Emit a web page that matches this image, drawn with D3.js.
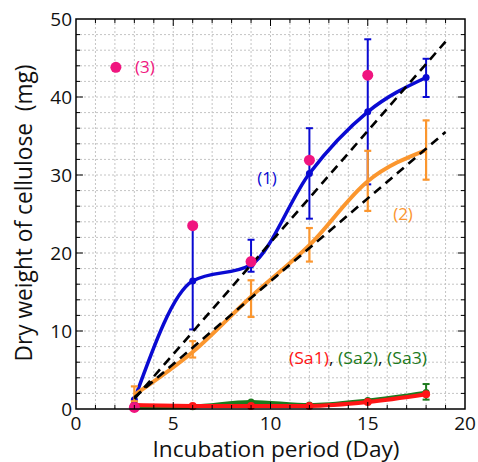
<!DOCTYPE html>
<html>
<head>
<meta charset="utf-8">
<script src="https://cdn.jsdelivr.net/npm/d3@7"></script>
<style>
  html, body { margin: 0; padding: 0; background: #fff; }
  svg { display: block; font-family: "Open Sans", "DejaVu Sans", sans-serif; }
</style>
</head>
<body>
<svg id="chart" width="478" height="462"></svg>
<script>
// incubation days
var days = [3, 6, 9, 12, 15, 18];

// (1) blue
var s1 = [1.2, 16.4, 18.5, 30.2, 38.1, 42.5];
var s1Lo = [1.2, 10.2, 17.6, 24.4, 28.8, 40.0];
var s1Hi = [1.2, 23.4, 21.7, 36.0, 47.4, 44.9];

// (2) orange
var s2 = [1.8, 7.3, 14.4, 21.0, 29.2, 33.2];
var s2Lo = [1.0, 6.6, 11.8, 18.9, 25.4, 29.4];
var s2Hi = [2.9, 8.7, 16.5, 23.2, 33.1, 37.0];

// (3) magenta points
var s3Days = [3, 6, 9, 12, 15];
var s3 = [0.2, 23.5, 18.9, 31.9, 42.8];
var s3Legend = [2.05, 43.8];

// controls
var sa1 = [0.5, 0.4, 0.4, 0.4, 0.9, 1.9];
var sa2 = [0.2, 0.3, 0.9, 0.5, 1.1, 2.1];
var sa2Lo = [0.2, 0.3, 0.9, 0.5, 1.1, 1.2];
var sa2Hi = [0.2, 0.3, 0.9, 0.5, 1.1, 3.2];

// dashed linear trends
var fit1 = [[3, 1.3], [19, 47.1]];
var fit2 = [[3, 1.5], [19, 35.5]];

var xTicks = [0, 5, 10, 15, 20];
var yTicks = [0, 10, 20, 30, 40, 50];

var BLUE = "#0a0ad2", ORANGE = "#fb962e", PINK = "#f0157f", RED = "#ff1515", GREEN = "#1d7a1d";

var svg = d3.select("#chart");
var x = d3.scaleLinear().domain([0, 20]).range([76, 465]);
var y = d3.scaleLinear().domain([0, 50]).range([409, 19]);

// grid
var grid = svg.append("g").attr("stroke", "#c4c4c4").attr("stroke-width", 1).attr("stroke-dasharray", "2,2");
d3.range(1, 20).forEach(function (v) {
  grid.append("line").attr("x1", x(v)).attr("x2", x(v)).attr("y1", y(0)).attr("y2", y(50));
});
d3.range(2, 50, 2).forEach(function (v) {
  grid.append("line").attr("x1", x(0)).attr("x2", x(20)).attr("y1", y(v)).attr("y2", y(v));
});

function pts(xs, ys) {
  return xs.map(function (d, i) { return [d, ys[i]]; });
}
var smooth = d3.line().x(function (d) { return x(d[0]); }).y(function (d) { return y(d[1]); }).curve(d3.curveMonotoneX);
var straight = d3.line().x(function (d) { return x(d[0]); }).y(function (d) { return y(d[1]); });

function errorBars(g, xs, lo, hi, color, w, cap) {
  xs.forEach(function (d, i) {
    if (hi[i] - lo[i] < 0.05) return;
    g.append("line").attr("x1", x(d)).attr("x2", x(d)).attr("y1", y(lo[i])).attr("y2", y(hi[i]))
      .attr("stroke", color).attr("stroke-width", w);
    [lo[i], hi[i]].forEach(function (v) {
      g.append("line").attr("x1", x(d) - cap).attr("x2", x(d) + cap).attr("y1", y(v)).attr("y2", y(v))
        .attr("stroke", color).attr("stroke-width", w);
    });
  });
}

var plot = svg.append("g");

// controls
plot.append("path").attr("d", smooth(pts(days, sa2))).attr("fill", "none").attr("stroke", GREEN).attr("stroke-width", 4);
errorBars(plot, days, sa2Lo, sa2Hi, GREEN, 2, 3.5);
plot.selectAll(".m2").data(pts(days, sa2)).enter().append("circle")
  .attr("cx", function (d) { return x(d[0]); }).attr("cy", function (d) { return y(d[1]); }).attr("r", 3.5).attr("fill", GREEN);
plot.append("path").attr("d", smooth(pts(days, sa1))).attr("fill", "none").attr("stroke", RED).attr("stroke-width", 4);
plot.selectAll(".m1").data(pts(days, sa1)).enter().append("circle")
  .attr("cx", function (d) { return x(d[0]); }).attr("cy", function (d) { return y(d[1]); }).attr("r", 4).attr("fill", RED);

// blue series
errorBars(plot, days, s1Lo, s1Hi, BLUE, 2, 3.5);
plot.append("path").attr("d", smooth(pts(days, s1))).attr("fill", "none").attr("stroke", BLUE).attr("stroke-width", 3.5);
plot.selectAll(".mb").data(pts(days, s1)).enter().append("circle")
  .attr("cx", function (d) { return x(d[0]); }).attr("cy", function (d) { return y(d[1]); }).attr("r", 3.5).attr("fill", BLUE);

// orange series
errorBars(plot, days, s2Lo, s2Hi, ORANGE, 2.2, 3.5);
plot.append("path").attr("d", smooth(pts(days, s2))).attr("fill", "none").attr("stroke", ORANGE).attr("stroke-width", 4);

// dashed trends
[fit1, fit2].forEach(function (f) {
  plot.append("path").attr("d", straight(f)).attr("fill", "none").attr("stroke", "#000")
    .attr("stroke-width", 2.6).attr("stroke-dasharray", "9,6");
});

// magenta points
plot.selectAll(".m3").data(pts(s3Days, s3).concat([s3Legend])).enter().append("circle")
  .attr("cx", function (d) { return x(d[0]); }).attr("cy", function (d) { return y(d[1]); }).attr("r", 5.5).attr("fill", PINK);

// frame and ticks (inward, on all sides)
var axes = svg.append("g").attr("stroke", "#000");
axes.append("rect").attr("x", x(0)).attr("y", y(50)).attr("width", x(20) - x(0)).attr("height", y(0) - y(50))
  .attr("fill", "none").attr("stroke-width", 1.5);
d3.range(1, 20).forEach(function (v) {
  var len = v % 5 === 0 ? 7 : 4;
  axes.append("line").attr("x1", x(v)).attr("x2", x(v)).attr("y1", y(0)).attr("y2", y(0) - len).attr("stroke-width", 1);
  axes.append("line").attr("x1", x(v)).attr("x2", x(v)).attr("y1", y(50)).attr("y2", y(50) + len).attr("stroke-width", 1);
});
d3.range(2, 50, 2).forEach(function (v) {
  var len = v % 10 === 0 ? 7 : 4;
  axes.append("line").attr("x1", x(0)).attr("x2", x(0) + len).attr("y1", y(v)).attr("y2", y(v)).attr("stroke-width", 1);
  axes.append("line").attr("x1", x(20)).attr("x2", x(20) - len).attr("y1", y(v)).attr("y2", y(v)).attr("stroke-width", 1);
});

// tick labels
svg.append("g").selectAll("text").data(xTicks).enter().append("text")
  .attr("x", function (d) { return x(d); }).attr("y", 430).attr("text-anchor", "middle")
  .attr("font-size", 19).attr("fill", "#111").text(function (d) { return d; });
svg.append("g").selectAll("text").data(yTicks).enter().append("text")
  .attr("x", 72).attr("y", function (d) { return y(d); }).attr("dy", "0.35em").attr("text-anchor", "end")
  .attr("font-size", 19).attr("fill", "#111").text(function (d) { return d; });

// axis titles
svg.append("text").attr("x", 276).attr("y", 457).attr("text-anchor", "middle")
  .attr("font-size", 21).attr("fill", "#111").attr("textLength", 247).attr("lengthAdjust", "spacingAndGlyphs")
  .text("Incubation period (Day)");
svg.append("text").attr("transform", "translate(32,213) rotate(-90)").attr("text-anchor", "middle")
  .attr("font-size", 23).attr("fill", "#111").attr("textLength", 297).attr("lengthAdjust", "spacingAndGlyphs")
  .style("white-space", "pre").text("Dry weight of cellulose  (mg)");

// series labels
svg.append("text").attr("x", 267).attr("y", 184).attr("text-anchor", "middle").attr("font-size", 17)
  .attr("fill", BLUE).text("(1)");
svg.append("text").attr("x", 403).attr("y", 220).attr("text-anchor", "middle").attr("font-size", 17)
  .attr("fill", ORANGE).text("(2)");
svg.append("text").attr("x", 135).attr("y", 73).attr("font-size", 17)
  .attr("fill", PINK).text("(3)");
var sa = svg.append("text").attr("x", 289).attr("y", 364).attr("font-size", 17)
  .attr("textLength", 138).attr("lengthAdjust", "spacingAndGlyphs").style("white-space", "pre");
sa.append("tspan").attr("fill", RED).text("(Sa1)");
sa.append("tspan").attr("fill", "#111").text(", ");
sa.append("tspan").attr("fill", GREEN).text("(Sa2)");
sa.append("tspan").attr("fill", "#111").text(", ");
sa.append("tspan").attr("fill", GREEN).text("(Sa3)");
</script>
</body>
</html>
